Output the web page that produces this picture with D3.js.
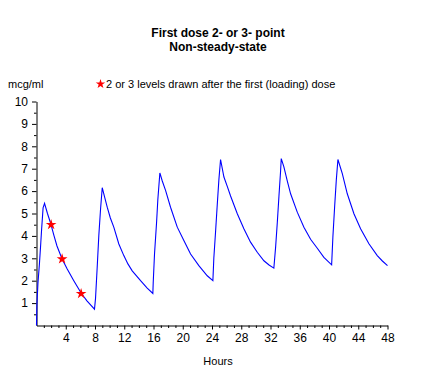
<!DOCTYPE html>
<html>
<head>
<meta charset="utf-8">
<script src="https://cdn.jsdelivr.net/npm/d3@7"></script>
<style>
  html, body { margin: 0; padding: 0; background: #fff; }
  svg { display: block; font-family: "Liberation Sans", Arial, sans-serif; }
</style>
</head>
<body>
<svg id="chart" width="433" height="381"></svg>
<script>
// ---- data ----
const hours = [0, 0.05, 0.2, 0.4, 0.55, 0.7, 0.9, 1.1, 1.5, 1.9, 2.4, 2.8, 3.5, 4.2, 5.1, 6.1, 6.9, 7.93,
  8.07, 8.3, 8.52, 8.76, 8.99, 9.3, 9.67, 10.1, 10.57, 11.26, 11.94, 12.5, 13.09, 14.23, 15.14, 15.91,
  15.96, 16.14, 16.42, 16.59, 16.87, 17.2, 17.65, 18.33, 19.25, 20.15, 21.07, 22.2, 23.35, 24.12,
  24.25, 24.49, 24.72, 24.94, 25.17, 25.63, 26.1, 26.54, 27.46, 28.36, 29.27, 30.19, 31.1, 31.8, 32.46,
  32.7, 32.93, 33.15, 33.38, 33.47, 33.83, 34.3, 34.75, 35.66, 36.57, 37.48, 38.4, 39.3, 40.36,
  40.53, 40.77, 41.0, 41.22, 41.82, 42.5, 43.41, 44.32, 45.46, 46.6, 47.3, 48];
const conc = [0, 0.9, 1.9, 2.75, 3.5, 4.3, 5.25, 5.45, 5.0, 4.6, 4.0, 3.55, 2.97, 2.52, 2.0, 1.45, 1.1, 0.73,
  1.2, 2.6, 4.0, 5.2, 6.15, 5.75, 5.28, 4.8, 4.39, 3.64, 3.12, 2.75, 2.44, 2.0, 1.67, 1.43,
  1.9, 3.2, 4.6, 5.6, 6.81, 6.45, 6.03, 5.28, 4.39, 3.79, 3.19, 2.67, 2.22, 2.0,
  3.0, 4.2, 5.4, 6.5, 7.41, 6.63, 6.2, 5.78, 4.99, 4.32, 3.72, 3.27, 2.89, 2.7, 2.56,
  3.5, 4.6, 5.75, 6.9, 7.45, 7.08, 6.45, 5.88, 5.06, 4.39, 3.85, 3.45, 3.04, 2.71,
  3.94, 5.3, 6.5, 7.41, 6.78, 5.88, 4.99, 4.32, 3.65, 3.12, 2.88, 2.67];
const levelHours = [2.0, 3.5, 6.1];
const levelConc = [4.5, 2.97, 1.42];
const xTickValues = [4, 8, 12, 16, 20, 24, 28, 32, 36, 40, 44, 48];
const yTickValues = [1, 2, 3, 4, 5, 6, 7, 8, 9, 10];
const titleLines = ["First dose 2- or 3- point", "Non-steady-state"];
const yLabel = "mcg/ml";
const xLabel = "Hours";
const legendText = "2 or 3 levels drawn after the first (loading) dose";

// ---- drawing ----
const svg = d3.select("#chart");
const x = d3.scaleLinear().domain([0, 48]).range([36.5, 387.5]);
const y = d3.scaleLinear().domain([0, 10]).range([325.5, 101.5]);

// titles
svg.append("g").selectAll("text").data(titleLines).join("text")
  .attr("x", 218).attr("y", (d, i) => 37 + i * 13.5)
  .attr("text-anchor", "middle").attr("font-weight", "bold").attr("font-size", 12)
  .attr("fill", "#000").text(d => d);

// y label
svg.append("text").attr("x", 8).attr("y", 88).attr("font-size", 11).attr("fill", "#000").text(yLabel);

// legend
svg.append("path").attr("d", d3.symbol(d3.symbolStar, 28)())
  .attr("transform", "translate(100.5,84)").attr("fill", "#ff0000");
svg.append("text").attr("x", 106).attr("y", 88).attr("font-size", 11).attr("fill", "#000").text(legendText);

// y axis
const yMinor = d3.range(0.5, 10, 1);
const gyMinor = svg.append("g").attr("transform", `translate(${x(0)},0)`)
  .call(d3.axisLeft(y).tickValues(yMinor).tickSize(2.5).tickSizeOuter(0).tickFormat(""));
gyMinor.select(".domain").remove();
const gy = svg.append("g").attr("transform", `translate(${x(0)},0)`)
  .call(d3.axisLeft(y).tickValues(yTickValues).tickSize(4.5).tickSizeOuter(0).tickPadding(4));
gy.selectAll("text").attr("font-size", 12).attr("font-family", "Liberation Sans, Arial, sans-serif");

// x axis
const xMinor = d3.range(1, 48, 1).filter(v => v % 4 !== 0);
const gxMinor = svg.append("g").attr("transform", `translate(0,${y(0)})`)
  .call(d3.axisBottom(x).tickValues(xMinor).tickSize(2.5).tickSizeOuter(0).tickFormat(""));
gxMinor.select(".domain").remove();
const gx = svg.append("g").attr("transform", `translate(0,${y(0)})`)
  .call(d3.axisBottom(x).tickValues(xTickValues).tickSize(4).tickSizeOuter(0).tickPadding(4));
gx.selectAll("text").attr("font-size", 12).attr("font-family", "Liberation Sans, Arial, sans-serif");
svg.selectAll(".domain, .tick line").attr("stroke", "#000");

svg.append("text").attr("x", 218).attr("y", 365).attr("text-anchor", "middle")
  .attr("font-size", 11).attr("fill", "#000").text(xLabel);

// curve
const pts = hours.map((h, i) => [h, conc[i]]);
const lineGen = d3.line().x(d => x(d[0])).y(d => y(d[1]));
svg.append("path").datum(pts)
  .attr("fill", "none").attr("stroke", "#0000ff").attr("stroke-width", 1.1)
  .attr("stroke-linejoin", "miter")
  .attr("d", lineGen);

// level markers
svg.append("g").selectAll("path").data(levelHours.map((h, i) => [h, levelConc[i]])).join("path")
  .attr("d", d3.symbol(d3.symbolStar, 36)())
  .attr("transform", d => `translate(${x(d[0])},${y(d[1])})`)
  .attr("fill", "#ff0000");
</script>
</body>
</html>
